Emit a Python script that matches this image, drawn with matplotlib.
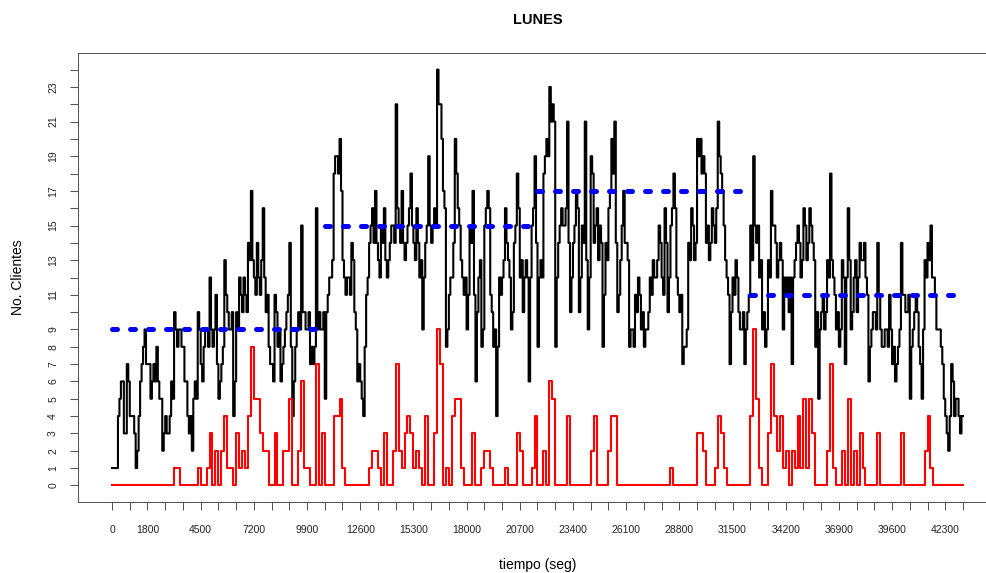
import numpy as np
import matplotlib
matplotlib.use("Agg")
from matplotlib import pyplot as plt

plt.rcParams['font.family'] = ['Liberation Sans', 'DejaVu Sans']

# clientes en el sistema: intervalos de 150 s, primera y segunda mitad
paso = 150
clientes_a = [
    1, 1, 4, 6, 3, 7, 4, 4, 1, 4,
    7, 9, 7, 5, 7, 8, 5, 2, 4, 3,
    6, 10, 8, 9, 8, 6, 3, 2, 6, 10,
    7, 8, 9, 12, 8, 11, 5, 7, 13, 10,
    9, 4, 10, 12, 10, 11, 14, 17, 12, 14,
    11, 16, 10, 8, 7, 11, 8, 6, 8, 10,
    14, 4, 8, 10, 15, 10, 9, 7, 7, 16,
    10, 9, 5, 11, 12, 18, 19, 20, 13, 11,
    12, 14, 10, 6, 6, 4, 11, 14, 16, 17,
    13, 15, 16, 12, 14, 15, 22, 15, 17, 13,
    15, 18, 14, 16, 12, 9, 14, 19, 14, 16,
    24, 22, 17, 8, 11, 12, 20, 16, 13, 11,
    9, 15, 17, 6, 12, 8, 15, 17, 11, 8,
    4, 12, 12, 16, 13, 9, 14, 18, 12, 10,
    13, 6, 15, 19, 8, 13, 18, 20, 23, 22,
    8, 14, 16, 15, 21, 10, 14, 17, 10, 15,
    21, 9, 19, 14, 16, 15, 8, 14, 16, 20,
    21, 10, 13, 17, 14, 8, 9, 11, 12, 9,
    8, 9, 12, 13, 12, 15, 12, 16, 10, 15,
    18, 12, 10, 7, 8, 14, 16, 13, 20, 20,
    19, 14, 13, 16, 14, 21, 18, 15, 12, 7,
    12, 13, 10, 9, 7, 10, 15, 19, 14, 12,
    9, 8, 13, 17, 15, 12, 14, 9, 11, 10,
    7, 13, 15, 12, 16, 13, 16, 14, 8, 5,
    10, 9, 13, 18, 12, 9, 8, 13, 7, 16,
    9, 12, 10, 14, 13, 12, 6, 9, 10, 14,
    9, 8, 9, 11, 7, 6, 8, 14, 11, 10,
    5, 9, 11, 8, 5, 13, 14, 15, 12, 9,
    9, 7, 4, 2, 7, 4, 5, 3,
]
clientes_b = [
    1, 1, 5, 6, 3, 6, 4, 3, 2, 6,
    8, 7, 7, 6, 6, 6, 5, 3, 3, 4,
    5, 9, 9, 8, 6, 4, 4, 5, 5, 9,
    6, 9, 8, 9, 9, 7, 6, 8, 11, 9,
    10, 6, 9, 11, 12, 10, 13, 13, 11, 12,
    13, 12, 11, 7, 6, 10, 9, 7, 9, 11,
    8, 6, 9, 9, 10, 9, 10, 8, 8, 9,
    9, 10, 10, 12, 13, 19, 18, 17, 12, 12,
    11, 13, 9, 7, 5, 8, 12, 15, 14, 14,
    12, 14, 13, 13, 15, 14, 16, 14, 14, 14,
    16, 15, 13, 14, 13, 12, 15, 15, 15, 15,
    22, 20, 16, 9, 12, 14, 18, 15, 12, 12,
    11, 14, 11, 10, 13, 9, 16, 16, 10, 9,
    8, 11, 13, 14, 12, 10, 15, 16, 13, 12,
    12, 12, 16, 14, 12, 12, 19, 19, 21, 21,
    12, 15, 15, 16, 14, 12, 15, 16, 12, 14,
    13, 12, 18, 15, 13, 14, 11, 13, 17, 18,
    14, 11, 15, 14, 13, 9, 8, 10, 11, 10,
    9, 10, 11, 12, 13, 14, 11, 14, 12, 16,
    16, 11, 11, 8, 9, 13, 15, 14, 19, 18,
    18, 15, 14, 15, 16, 19, 17, 13, 11, 10,
    11, 12, 9, 10, 9, 11, 13, 15, 15, 13,
    10, 9, 12, 15, 14, 13, 13, 12, 12, 12,
    12, 14, 14, 13, 15, 14, 15, 13, 10, 9,
    11, 10, 12, 13, 11, 10, 9, 12, 12, 13,
    10, 13, 12, 13, 14, 11, 8, 10, 9, 11,
    8, 9, 8, 9, 8, 7, 9, 11, 10, 11,
    8, 10, 10, 7, 9, 12, 13, 12, 11, 9,
    8, 5, 3, 4, 6, 5, 4, 4,
]

# clientes en cola, intervalos de 150 s
en_cola = [
    0, 0, 0, 0, 0, 0, 0, 0, 0, 0,
    0, 0, 0, 0, 0, 0, 0, 0, 0, 0,
    0, 1, 1, 0, 0, 0, 0, 0, 0, 1,
    0, 0, 1, 3, 0, 2, 0, 2, 4, 1,
    1, 0, 3, 1, 2, 1, 4, 8, 5, 5,
    3, 2, 2, 0, 0, 3, 0, 0, 2, 2,
    5, 0, 0, 2, 6, 1, 1, 0, 0, 7,
    0, 3, 0, 0, 0, 4, 4, 5, 1, 0,
    0, 0, 0, 0, 0, 0, 0, 1, 2, 2,
    1, 0, 3, 0, 0, 2, 7, 2, 1, 3,
    4, 3, 1, 2, 1, 0, 4, 0, 0, 3,
    9, 7, 0, 1, 0, 4, 5, 5, 1, 0,
    0, 0, 3, 0, 0, 1, 2, 2, 1, 0,
    0, 0, 0, 1, 0, 0, 0, 3, 2, 0,
    0, 0, 1, 4, 0, 0, 2, 0, 6, 5,
    0, 0, 0, 0, 4, 0, 0, 0, 0, 0,
    0, 0, 2, 4, 0, 0, 0, 0, 2, 4,
    4, 0, 0, 0, 0, 0, 0, 0, 0, 0,
    0, 0, 0, 0, 0, 0, 0, 0, 0, 1,
    0, 0, 0, 0, 0, 0, 0, 0, 3, 3,
    2, 0, 0, 0, 1, 4, 3, 1, 0, 0,
    0, 0, 0, 0, 0, 0, 4, 9, 5, 1,
    0, 0, 3, 7, 4, 2, 4, 1, 2, 0,
    2, 1, 4, 1, 5, 1, 5, 3, 0, 0,
    0, 0, 2, 7, 1, 0, 0, 2, 0, 5,
    0, 2, 0, 3, 1, 0, 0, 0, 0, 3,
    0, 0, 0, 0, 0, 0, 0, 3, 0, 0,
    0, 0, 0, 0, 0, 2, 4, 1, 0, 0,
    0, 0, 0, 0, 0, 0, 0, 0,
]

# promedio por bloque de 3 horas
bloque_ini = [0, 10800, 21600, 32400]
bloque_fin = [10800, 21600, 32400, 43200]
promedio = [9, 15, 17, 11]

x_etiquetas = [0, 1800, 4500, 7200, 9900, 12600, 15300, 18000, 20700,
               23400, 26100, 28800, 31500, 34200, 36900, 39600, 42300]
y_etiquetas = [0, 1, 2, 3, 4, 5, 6, 7, 8, 9, 11, 13, 15, 17, 19, 21, 23]


def escalones(valores, dt):
    t = np.arange(len(valores) + 1) * dt
    v = list(valores) + [valores[-1]]
    return t, v


fig = plt.figure(figsize=(9.86, 5.73), dpi=100)
ax = fig.add_axes([78 / 986, 71 / 573, 919 / 986, 449 / 573])

# las dos mitades de cada intervalo van intercaladas
sistema = np.column_stack([clientes_a, clientes_b]).ravel()
t, v = escalones(sistema, paso / 2)
ax.step(t, v, where='post', color='black', lw=1.5)
t, v = escalones(en_cola, paso)
ax.step(t, v, where='post', color='red', lw=1.5)

for ini, fin, p in zip(bloque_ini, bloque_fin, promedio):
    ax.plot([ini, fin], [p, p], color='blue', lw=3.6,
            dashes=(1, 2.6), dash_capstyle='round')

ax.set_xlim(-1728, 44928)
ax.set_ylim(-0.96, 24.96)

xt = np.arange(0, 43201, 900)
ax.set_xticks(xt)
ax.set_xticklabels([str(x) if x in x_etiquetas else '' for x in xt])
yt = np.arange(0, 25)
ax.set_yticks(yt)
ax.set_yticklabels([str(y) if y in y_etiquetas else '' for y in yt],
                   rotation=90, va='center')

ax.tick_params(axis='x', length=5.8, width=0.75, pad=10.5,
               labelsize=7.5, color='#555555', labelcolor='#222222')
ax.tick_params(axis='y', length=5.8, width=0.75, pad=8.5,
               labelsize=7.5, color='#555555', labelcolor='#222222')
for s in ax.spines.values():
    s.set_color('#555555')
    s.set_linewidth(0.75)

cx = (78 + 997) / 2 / 986
fig.text(cx, 1 - 20 / 573, 'LUNES', ha='center', va='center',
         fontsize=10.5, fontweight='bold')
fig.text(cx, 1 - 565 / 573, 'tiempo (seg)', ha='center', va='center',
         fontsize=10)
fig.text(18 / 986, 1 - 277 / 573, 'No. Clientes', ha='center', va='center',
         rotation=90, fontsize=10)

plt.savefig('out.png', dpi=100)
